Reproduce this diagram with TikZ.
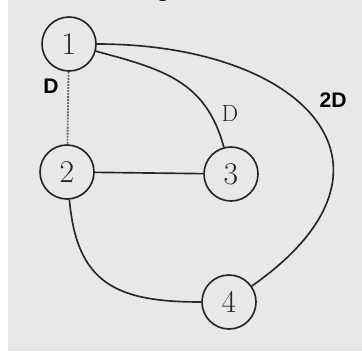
\documentclass[tikz,border=0pt]{standalone}
\usepackage{fontspec}
\newfontfamily\labelfont{Liberation Sans}
\usetikzlibrary{positioning}
\definecolor{paper}{HTML}{E7E8EA}
\definecolor{ink}{HTML}{262626}

\begin{document}
\begin{tikzpicture}[
    x=0.03cm, y=0.03cm,
    vertex/.style={draw=ink, circle, line width=1.4pt, minimum size=1.62cm, inner sep=0pt, font=\fontsize{27}{29}\selectfont, text=ink},
    link/.style={draw=ink, line width=1.4pt},
    dotlink/.style={draw=ink!70, line width=1.6pt, dash pattern=on 1.6pt off 1pt},
    weight/.style={font=\labelfont\bfseries\fontsize{18}{20}\selectfont, text=black},
    handweight/.style={font=\fontsize{20}{22}\selectfont, text=ink}
  ]
    % scanned page
    \fill[white] (0,0) rectangle (362,351);
    \fill[paper] (8,0) rectangle (362,351);
    \useasboundingbox (0,0) rectangle (362,351);
    \begin{scope}
      \clip (0,0) rectangle (362,351);
      \node[anchor=base, font=\labelfont\bfseries\fontsize{20}{22}\selectfont] (cap) at (163,355) {g};
    \end{scope}
    \node[vertex] (n1) at (69,307) {1};
    \node[vertex] (n2) at (67,179) {2};
    \node[vertex] (n3) at (231,177) {3};
    \node[vertex] (n4) at (229,49) {4};
    \draw[dotlink] (n1) -- (n2);
    \draw[link] (n2) -- (n3);
    \draw[link] (n1) to[out=-15, in=105, looseness=1.1] (n3);
    \draw[link] (n1) to[out=0, in=35, looseness=1.85] (n4);
    \draw[link] (n2) to[out=-85, in=180, looseness=1.3] (n4);
    \node[weight] (w12) at (51,265) {D};
    \node[handweight] (w13) at (230,238) {D};
    \node[weight] (w14) at (333,251) {2D};
  \end{tikzpicture}
\end{document}
